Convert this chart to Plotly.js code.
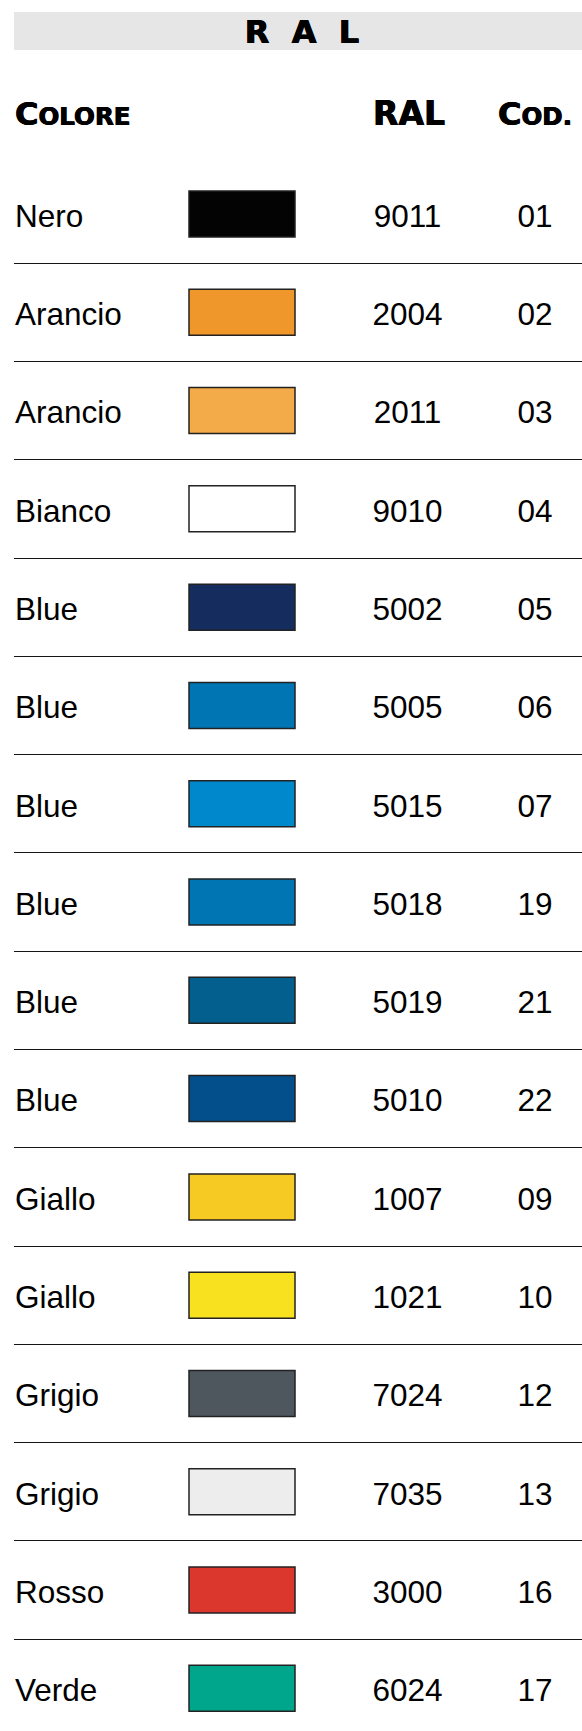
<!DOCTYPE html>
<html>
<head>
<meta charset="utf-8">
<script src="https://cdn.plot.ly/plotly-3.0.1.min.js"></script>
<style>
  html, body { margin: 0; padding: 0; background: #ffffff; }
  #chart { width: 582px; height: 1731px; }
</style>
</head>
<body>
<div id="chart"></div>
<script>
// ---- data ----
const colorNames = ["Nero", "Arancio", "Arancio", "Bianco", "Blue", "Blue", "Blue", "Blue", "Blue", "Blue", "Giallo", "Giallo", "Grigio", "Grigio", "Rosso", "Verde"];
const ralCodes   = ["9011", "2004", "2011", "9010", "5002", "5005", "5015", "5018", "5019", "5010", "1007", "1021", "7024", "7035", "3000", "6024"];
const codCodes   = ["01", "02", "03", "04", "05", "06", "07", "19", "21", "22", "09", "10", "12", "13", "16", "17"];
const swatchColors = ["#030303", "#F0972C", "#F3AA48", "#FFFFFF", "#142D5E", "#0075B4", "#0088CC", "#0075B4", "#035F8D", "#024F8C", "#F6CA22", "#F8E11E", "#4F575E", "#EDEDED", "#DC372D", "#00A68B"];
const headerLabels = ["<span style=\"font-size:32px\">C</span>OLORE", "<span style=\"font-size:33px\">RAL</span>", "<span style=\"font-size:32px\">C</span>OD."];
const titleText = "R\u00a0\u00a0A\u00a0\u00a0L";

// ---- layout constants (pixels) ----
const W = 582, H = 1731;
const firstRowY = 214, rowPitch = 98.29;
const textShift = 5;
const headerShift = -1.5;
const leftEdge = 14;
const nameX = 15, swatchX0 = 189, swatchW = 106, swatchH = 46;
const ralX = 407.5, codX = 535;

const idx = colorNames.map((_, i) => i);
const yTop = (0 - firstRowY) / rowPitch;
const yBot = (H - firstRowY) / rowPitch;
const tTop = (0 - firstRowY - textShift) / rowPitch;
const tBot = (H - firstRowY - textShift) / rowPitch;
const headerRow = -1 + headerShift / rowPitch;

const rowFont = { family: "Liberation Sans, Arial, sans-serif", size: 31.5, color: "#000000" };
const boldShadow = "0.5px 0 0 #000, -0.5px 0 0 #000";

const traces = [
  {
    type: "bar", orientation: "h",
    y: idx, x: idx.map(() => swatchW), base: swatchX0,
    width: swatchH / rowPitch,
    marker: { color: swatchColors, line: { color: "#222222", width: 1.5 } },
    hoverinfo: "skip", showlegend: false
  },
  {
    type: "scatter", mode: "text", yaxis: "y2",
    x: idx.map(() => nameX), y: idx, text: colorNames,
    textposition: "middle right", textfont: rowFont,
    hoverinfo: "skip", showlegend: false
  },
  {
    type: "scatter", mode: "text", yaxis: "y2",
    x: idx.map(() => ralX), y: idx, text: ralCodes,
    textposition: "middle center", textfont: rowFont,
    hoverinfo: "skip", showlegend: false
  },
  {
    type: "scatter", mode: "text", yaxis: "y2",
    x: idx.map(() => codX), y: idx, text: codCodes,
    textposition: "middle center", textfont: rowFont,
    hoverinfo: "skip", showlegend: false
  },
  {
    type: "scatter", mode: "text", yaxis: "y2",
    x: [nameX, ralX + 1.5, codX], y: [headerRow, headerRow, headerRow], text: headerLabels,
    textposition: ["middle right", "middle center", "middle center"],
    textfont: { family: "DejaVu Sans, sans-serif", size: 24.5, color: "#000000", weight: 700, shadow: boldShadow },
    hoverinfo: "skip", showlegend: false
  }
];

const layout = {
  width: W, height: H,
  margin: { l: 0, r: 0, t: 0, b: 0, pad: 0 },
  paper_bgcolor: "#ffffff", plot_bgcolor: "#ffffff",
  showlegend: false,
  title: {
    text: titleText,
    font: { family: "DejaVu Sans, sans-serif", size: 32, color: "#000000", weight: 700, shadow: boldShadow },
    x: 302 / W, xanchor: "center", xref: "paper",
    y: 1 - 32 / H, yanchor: "middle", yref: "container"
  },
  xaxis: {
    domain: [leftEdge / W, 1], range: [leftEdge, W],
    showgrid: false, zeroline: false, showline: false,
    showticklabels: false, ticks: "", fixedrange: true
  },
  yaxis: {
    domain: [0, 1], range: [yBot, yTop],
    tickmode: "array", tickvals: idx.slice(0, -1).map(i => i + 0.5),
    showgrid: true, gridcolor: "#151515", gridwidth: 1,
    zeroline: false, showline: false,
    showticklabels: false, ticks: "", fixedrange: true
  },
  yaxis2: {
    overlaying: "y", domain: [0, 1], range: [tBot, tTop],
    showgrid: false, zeroline: false, showline: false,
    showticklabels: false, ticks: "", fixedrange: true
  },
  shapes: [{
    type: "rect", layer: "below",
    xref: "x", x0: leftEdge, x1: W,
    yref: "paper", y0: 1 - 50 / H, y1: 1 - 12 / H,
    fillcolor: "#E6E6E6", line: { width: 0 }
  }]
};

Plotly.newPlot("chart", traces, layout, { displayModeBar: false, staticPlot: true });
</script>
</body>
</html>
